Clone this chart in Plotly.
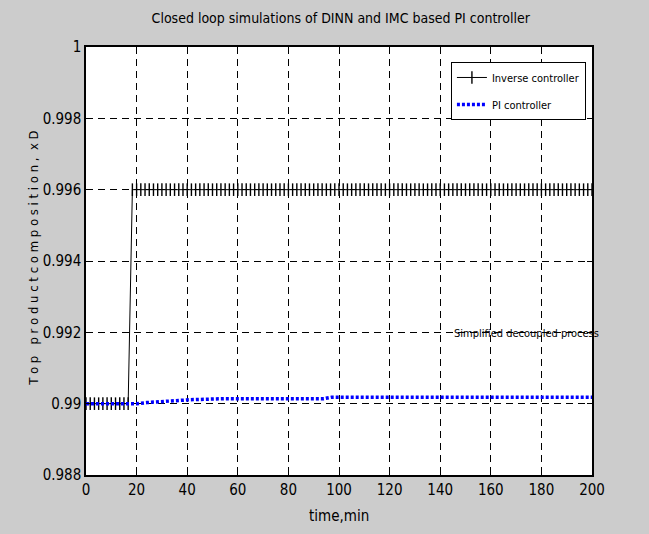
import plotly.graph_objects as go

# ---- data ----
# Inverse controller: sampled every 5/3 min, step from 0.990 to 0.996 at ~18 min
inv_time = [i * 5 / 3 for i in range(121)]
inv_low = [0.990] * 11
inv_high = [0.996] * 110
inv_values = inv_low + inv_high

# PI controller (slow rise)
pi_time = [0, 17, 20, 24, 31, 41, 55, 70, 94, 97, 200]
pi_values = [0.990, 0.990, 0.990, 0.99003, 0.99007, 0.99011, 0.99014, 0.99014,
             0.99014, 0.99018, 0.99018]

x_ticks = [0, 20, 40, 60, 80, 100, 120, 140, 160, 180, 200]
y_ticks = [0.988, 0.990, 0.992, 0.994, 0.996, 0.998, 1.0]
y_tick_text = ["0.988", "0.99", "0.992", "0.994", "0.996", "0.998", "1"]

title_text = "Closed loop simulations of DINN and IMC based PI controller"
x_label = "time,min"
y_label = "T o p   p r o d u c t c o m p o s i t i o n ,  x D"
note_text = "Simplified decoupled process"
series_names = ["Inverse controller", "PI controller"]

FONT = "DejaVu Sans Condensed, Liberation Sans Narrow, Arial Narrow, sans-serif"

fig = go.Figure()
fig.add_trace(go.Scatter(
    x=inv_time, y=inv_values, name=series_names[0], mode="lines+markers",
    legendgroup="a",
    line=dict(color="black", width=1),
    marker=dict(symbol="line-ns", size=9, color="black",
                line=dict(color="black", width=1.4)),
))
fig.add_trace(go.Scatter(
    x=pi_time, y=pi_values, name=series_names[1], mode="lines",
    legendgroup="b",
    line=dict(color="#0000ff", width=3.5, dash="3px,2px"),
))

axis_common = dict(
    showline=True, linecolor="black", linewidth=1.5, mirror="ticks",
    ticks="inside", ticklen=5, tickcolor="black",
    showgrid=True, gridcolor="black", gridwidth=1, griddash="7px,5px",
    zeroline=False, tickfont=dict(family=FONT, size=15, color="black"),
)

fig.update_layout(
    width=649, height=534,
    margin=dict(l=86, r=57, t=47, b=59),
    paper_bgcolor="#cccccc", plot_bgcolor="white",
    font=dict(family=FONT, color="black"),
    title=dict(text=title_text, x=0.525, xanchor="center", y=1 - 18 / 534,
               yanchor="middle", font=dict(family=FONT, size=14, color="black")),
    xaxis=dict(range=[0, 200], tickvals=x_ticks, **axis_common),
    yaxis=dict(range=[0.988, 1.0], tickvals=y_ticks, ticktext=y_tick_text,
               **axis_common),
    legend=dict(x=0.988, xanchor="right", y=0.965, yanchor="top",
                bgcolor="white", bordercolor="black", borderwidth=1,
                font=dict(family=FONT, size=11, color="black"),
                itemwidth=30, traceorder="grouped", tracegroupgap=8),
    showlegend=True,
    annotations=[
        dict(text=x_label, xref="paper", yref="paper", x=0.5, y=-41 / 428,
             xanchor="center", yanchor="middle", showarrow=False,
             font=dict(family=FONT, size=15, color="black")),
        dict(text=y_label.replace(" ", "\u00a0"), xref="paper", yref="paper",
             x=-52 / 506, y=0.505, xanchor="center", yanchor="middle",
             textangle=-90, showarrow=False,
             font=dict(family=FONT, size=13, color="black")),
        dict(text=note_text, xref="x", yref="y", x=174, y=0.99198,
             xanchor="center", yanchor="middle", showarrow=False,
             font=dict(family=FONT, size=11, color="black")),
    ],
)

fig.write_html("out.html")
